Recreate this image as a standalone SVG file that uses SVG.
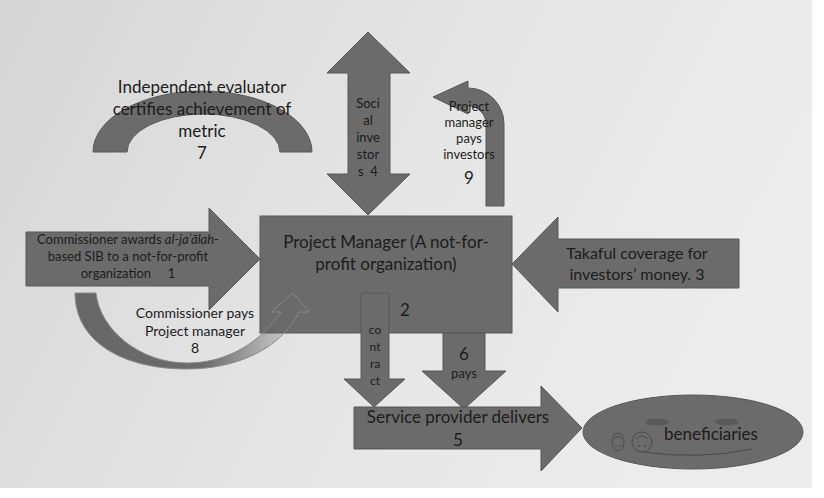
<svg xmlns="http://www.w3.org/2000/svg" width="824" height="498" viewBox="0 0 824 498">
<defs>
<linearGradient id="bg" x1="0" y1="0" x2="1" y2="0.3">
<stop offset="0" stop-color="#d6d6d6"/>
<stop offset="0.6" stop-color="#e6e6e6"/>
<stop offset="1" stop-color="#ececec"/>
</linearGradient>
<linearGradient id="curv" x1="75" y1="0" x2="310" y2="0" gradientUnits="userSpaceOnUse">
<stop offset="0" stop-color="#666" stop-opacity="1"/>
<stop offset="0.55" stop-color="#666" stop-opacity="0.95"/>
<stop offset="1" stop-color="#666" stop-opacity="0"/>
</linearGradient>
</defs>
<style>
.s{fill:#6b6b6b;stroke:#585858;stroke-width:1}
.t{font-family:Lato,"Open Sans","Liberation Sans",sans-serif;fill:#1c1c1c;text-anchor:middle}
.f17{font-size:17px}
.f16{font-size:16px}
.f14{font-size:14px}
.f13{font-size:13px}
.f12{font-size:12px}
.face{fill:none;stroke:#4a4a4a;stroke-width:1}
</style>
<rect x="0" y="0" width="824" height="498" fill="#ffffff"/>
<rect x="0" y="0" width="812" height="488" fill="url(#bg)"/>

<g id="evaluator">
<path class="s" d="M93,152 A109.5,61 0 0 1 312,152 L280,152 A76.5,38 0 0 0 127,152 Z"/>
<text class="t f17" x="202" y="93">Independent evaluator</text>
<text class="t f17" x="202" y="115">certifies achievement of</text>
<text class="t f17" x="202" y="137">metric</text>
<text class="t f17" x="202" y="159">7</text>
</g>

<g id="connectors">
<g id="social-investors">
<path class="s" d="M368,32 L410,73 L390,73 L390,174 L410,174 L368,215 L327,174 L348,174 L348,73 L327,73 Z"/>
<text class="t f13" x="368" y="108">Soci</text>
<text class="t f13" x="368" y="125">al</text>
<text class="t f13" x="368" y="142">inve</text>
<text class="t f13" x="368" y="159">stor</text>
<text class="t f13" x="368" y="176" xml:space="preserve">s  4</text>
</g>
<g id="pays-investors">
<path class="s" d="M433,97 L468,81 L468,88 A36,36 0 0 1 504,124 L504,206 L486,206 L486,124 A18,18 0 0 0 468,106 L468,114 Z"/>
<text class="t f13" x="469" y="111">Project</text>
<text class="t f13" x="469" y="127">manager</text>
<text class="t f13" x="469" y="143">pays</text>
<text class="t f13" x="469" y="159">investors</text>
<text class="t f17" x="469" y="184">9</text>
</g>
<g id="commissioner-awards">
<path class="s" d="M26,232 L209,232 L209,208 L260,259 L209,310 L209,286 L26,286 Z"/>
<text class="t f13" x="128" y="244">Commissioner awards <tspan font-style="italic">al-jaʿālah</tspan>-</text>
<text class="t f13" x="128" y="261">based SIB to a not-for-profit</text>
<text class="t f13" x="128" y="278" xml:space="preserve">organization     1</text>
</g>
<g id="takaful">
<path class="s" d="M512,264 L558,217 L558,239 L739,239 L739,288 L558,288 L558,312 Z"/>
<text class="t f16" x="637" y="259">Takaful coverage for</text>
<text class="t f16" x="637" y="280">investors’ money. 3</text>
</g>
</g>

<g id="project-manager">
<rect class="s" x="260" y="216" width="252" height="117"/>
<text class="t f17" x="386" y="248">Project Manager (A not-for-</text>
<text class="t f17" x="386" y="270">profit organization)</text>
<text class="t f17" x="405" y="316">2</text>
</g>

<g id="connectors-2">
<g id="commissioner-pays">
<path d="M75,293 L96,293 C100,330 140,363 187,363 C230,363 262,340 281,312 L271,312 L293,293 L309,312 L299,312 C280,350 235,369 187,369 C120,369 75,340 75,293 Z" fill="url(#curv)" stroke="#8a8a8a" stroke-width="1"/>
<text class="t f14" x="195" y="318">Commissioner pays</text>
<text class="t f14" x="195" y="336">Project manager</text>
<text class="t f14" x="195" y="353">8</text>
</g>
<g id="contract">
<path class="s" d="M361,293 L389,293 L389,379 L405,379 L374,407 L344,379 L361,379 Z" stroke="#7a7a7a"/>
<text class="t f12" x="375" y="334">co</text>
<text class="t f12" x="375" y="351">nt</text>
<text class="t f12" x="375" y="368">ra</text>
<text class="t f12" x="375" y="385">ct</text>
</g>
<g id="pays">
<path class="s" d="M443,333 L485,333 L485,371 L506,371 L464,409 L422,371 L443,371 Z"/>
<text class="t f17" x="464" y="360">6</text>
<text class="t f13" x="464" y="378">pays</text>
</g>
</g>

<g id="service-provider">
<path class="s" d="M354,407 L541,407 L541,386 L582,428 L541,471 L541,449 L354,449 Z"/>
<text class="t f17" x="458" y="423">Service provider delivers</text>
<text class="t f17" x="458" y="446">5</text>
</g>

<g id="beneficiaries">
<ellipse class="s" cx="693" cy="432" rx="110" ry="37"/>
<ellipse cx="657" cy="422" rx="12" ry="3.5" fill="#5a5a5a"/>
<ellipse cx="727" cy="422" rx="12" ry="3.5" fill="#5a5a5a"/>
<path class="face" d="M643,452 Q700,460 752,449"/>
<ellipse class="face" cx="618" cy="442" rx="6" ry="9"/>
<path class="face" d="M614,439 Q618,434 622,439"/>
<circle cx="616" cy="446" r="0.9" fill="#4a4a4a"/>
<circle cx="620" cy="446" r="0.9" fill="#4a4a4a"/>
<circle class="face" cx="642" cy="442" r="10"/>
<path class="face" d="M636,439 Q642,433 648,439"/>
<circle cx="639" cy="446" r="1" fill="#4a4a4a"/>
<circle cx="645" cy="446" r="1" fill="#4a4a4a"/>
<text class="t f17" x="711" y="440">beneficiaries</text>
</g>
</svg>
